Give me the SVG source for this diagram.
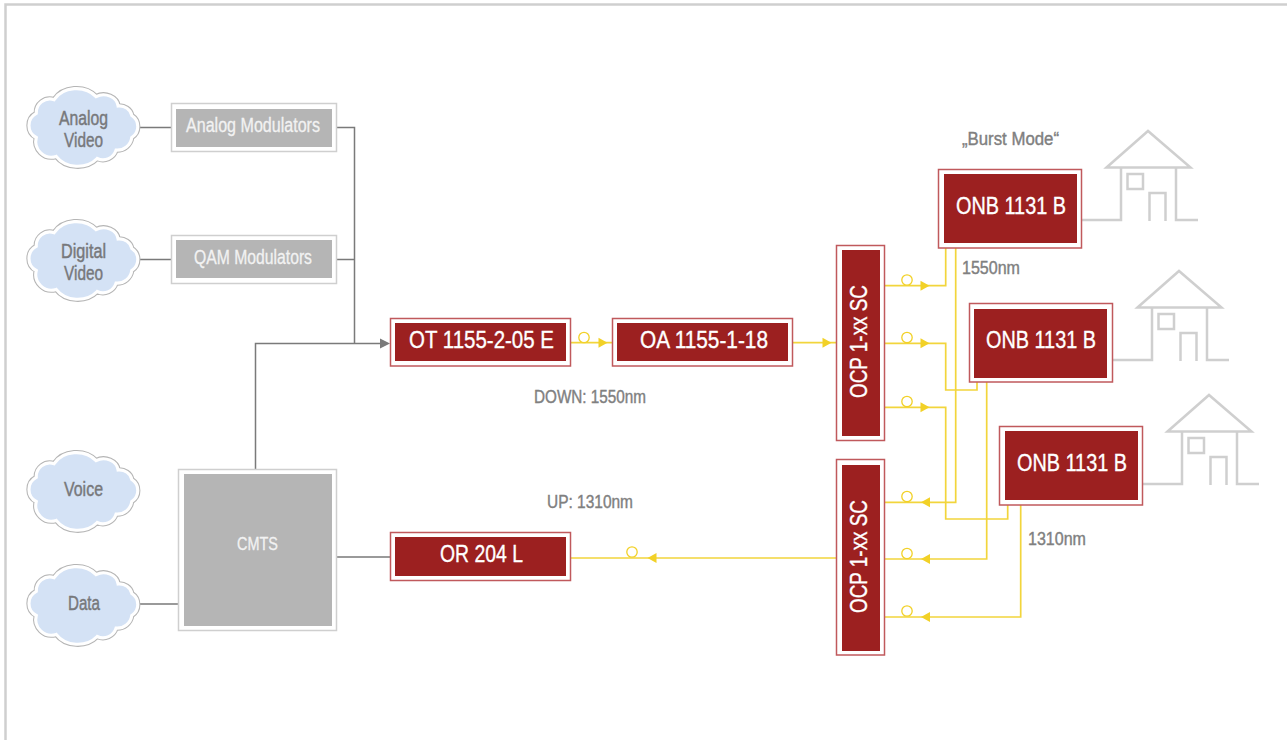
<svg xmlns="http://www.w3.org/2000/svg" xmlns:xlink="http://www.w3.org/1999/xlink" width="1287" height="740" viewBox="0 0 1287 740">
<style>
text{font-family:"Liberation Sans",Arial,sans-serif}
.g{fill:none;stroke:#7a7a7a;stroke-width:1.5}
.y{fill:none;stroke:#f2d53c;stroke-width:1.7}
.c{fill:#fff;stroke:#f2d127;stroke-width:1.3}
.ya{fill:#f2d127}
.ro{fill:#fff;stroke:#c0595c;stroke-width:1.5}
.ri{fill:#9c2020}
.go{fill:#fff;stroke:#cfcfcf;stroke-width:1.5}
.gi{fill:#b5b5b5}
.h{fill:none;stroke:#cfcfcf;stroke-width:2.5}
.t1{fill:#fff;font-size:24px;stroke:#fff;stroke-width:.35}
.t2{fill:#f2f2f2;font-size:19.5px;stroke:#f2f2f2;stroke-width:.3}
.t3{fill:#77787b;font-size:20px;stroke:#77787b;stroke-width:.45}
.t4{fill:#808080;font-size:18px;stroke:#808080;stroke-width:.4}
</style>
<defs>
<path id="cp" d="M39,116A13,13 0 0 1 56,103A24,20 0 0 1 96,100A14,12 0 0 1 117,109A12,11 0 0 1 130,118A12.500,12.500 0 0 1 130,139A14,14 0 0 1 115,151A13,13 0 0 1 97,159A24,20 0 0 1 58,157A15,15 0 0 1 39,139A13,13 0 0 1 39,116Z"/>
<g id="cloud" transform="translate(83.500,127) scale(1.05) translate(-84,-127)">
<use href="#cp" y="-2" fill="none" stroke="#b5b5b5" stroke-width="5"/>
<use href="#cp" y="-2" fill="#d4e2f5" stroke="#fff" stroke-width="3"/>
</g>
<polygon id="ar" class="ya" points="0,-5 9,0 0,5"/>
<polygon id="al" class="ya" points="9,-5 0,0 9,5"/>
<g id="house" class="h">
<path d="M1082,220H1121V167.500M1176,167.500V220H1198M1106.500,167.500L1148,131L1190.500,167.500Z"/>
<rect x="1127.500" y="174" width="15.500" height="15"/>
<path d="M1149.500,221V193H1165.500V221"/>
</g>
</defs>
<path id="frame" d="M5.500,740V4.500H1287" fill="none" stroke="#cfcfcf" stroke-width="2.500"/>
<g id="connectors">
<path class="g" d="M139,127.500H171M139,259.500H171M336,127.500H354.500V343M336,259.500H354.500M255.500,469V343.500H381M139,604H179M336,557H390"/>
<polygon points="380,338.500 390,343.500 380,348.500" fill="#7a7a7a"/>
<path class="y" d="M571,342.700H612M793,342.700H836M885,285.700H945.700V248M885,343.300H945.700V390H977V381M885,407.300H945.700V519H1007.700V505M955.700,248V502.300H885M986.700,381V559H885M1020.700,505V617H885M836,558H571"/>
<use href="#ar" x="598.500" y="342.700"/><use href="#ar" x="822.500" y="342.700"/>
<use href="#ar" x="920.500" y="285.700"/><use href="#ar" x="920.500" y="343.300"/><use href="#ar" x="920.500" y="407.300"/>
<use href="#al" x="921" y="502.300"/><use href="#al" x="921" y="559"/><use href="#al" x="921" y="617"/><use href="#al" x="647.500" y="558"/>
<circle class="c" cx="584" cy="337.500" r="5.200"/><circle class="c" cx="907" cy="280" r="5.200"/><circle class="c" cx="907" cy="337.500" r="5.200"/><circle class="c" cx="907" cy="401.500" r="5.200"/>
<circle class="c" cx="907" cy="496.500" r="5.200"/><circle class="c" cx="907" cy="553.500" r="5.200"/><circle class="c" cx="907" cy="611" r="5.200"/><circle class="c" cx="632" cy="552" r="5.200"/>
</g>
<g id="house1"><use href="#house"/></g>
<g id="house2"><use href="#house" x="31" y="140"/></g>
<g id="house3"><use href="#house" x="61" y="264"/></g>
<g id="cloud-analog"><use href="#cloud"/><text class="t3" x="59" y="124.500" textLength="49" lengthAdjust="spacingAndGlyphs">Analog</text><text class="t3" x="64" y="146.500" textLength="39" lengthAdjust="spacingAndGlyphs">Video</text></g>
<g id="cloud-digital"><use href="#cloud" y="133"/><text class="t3" x="61" y="257.500" textLength="45" lengthAdjust="spacingAndGlyphs">Digital</text><text class="t3" x="64" y="279.500" textLength="39" lengthAdjust="spacingAndGlyphs">Video</text></g>
<g id="cloud-voice"><use href="#cloud" y="364"/><text class="t3" x="64" y="495.500" textLength="39" lengthAdjust="spacingAndGlyphs">Voice</text></g>
<g id="cloud-data"><use href="#cloud" y="478"/><text class="t3" x="68" y="609.500" textLength="32" lengthAdjust="spacingAndGlyphs">Data</text></g>
<g id="analog-mod"><rect class="go" x="171.500" y="103.500" width="165" height="48"/><rect class="gi" x="176" y="109" width="156" height="38"/><text class="t2" x="186" y="132" textLength="134" lengthAdjust="spacingAndGlyphs">Analog Modulators</text></g>
<g id="qam-mod"><rect class="go" x="171.500" y="235.500" width="165" height="48"/><rect class="gi" x="176" y="240" width="156" height="38"/><text class="t2" x="194" y="264" textLength="118" lengthAdjust="spacingAndGlyphs">QAM Modulators</text></g>
<g id="cmts"><rect class="go" x="178.500" y="469.500" width="158" height="161"/><rect class="gi" x="184" y="474" width="148" height="152"/><text class="t2" x="237" y="549.500" textLength="41" lengthAdjust="spacingAndGlyphs" style="font-size:18px">CMTS</text></g>
<g id="ot"><rect class="ro" x="390.500" y="318.500" width="180" height="47.500"/><rect class="ri" x="395" y="323" width="171" height="38"/><text class="t1" x="409" y="348" textLength="145" lengthAdjust="spacingAndGlyphs">OT 1155-2-05 E</text></g>
<g id="oa"><rect class="ro" x="612.500" y="318.500" width="180" height="47.500"/><rect class="ri" x="617" y="323" width="171" height="38"/><text class="t1" x="640" y="348" textLength="128" lengthAdjust="spacingAndGlyphs">OA 1155-1-18</text></g>
<g id="or"><rect class="ro" x="390.500" y="532.500" width="180" height="48"/><rect class="ri" x="395" y="537" width="171" height="39"/><text class="t1" x="440" y="562" textLength="83" lengthAdjust="spacingAndGlyphs">OR 204 L</text></g>
<g id="ocp1"><rect class="ro" x="836.500" y="245.500" width="48" height="195"/><rect class="ri" x="842" y="250" width="38" height="186"/><text class="t1" transform="translate(867,398) rotate(-90)" textLength="113" lengthAdjust="spacingAndGlyphs">OCP 1-xx SC</text></g>
<g id="ocp2"><rect class="ro" x="836.500" y="459.500" width="48" height="195.500"/><rect class="ri" x="842" y="465" width="38" height="186"/><text class="t1" transform="translate(867,613) rotate(-90)" textLength="113" lengthAdjust="spacingAndGlyphs">OCP 1-xx SC</text></g>
<g id="onb1"><rect class="ro" x="938.500" y="169.500" width="143" height="78.500"/><rect class="ri" x="944" y="174" width="133" height="69"/><text class="t1" x="956" y="214" textLength="110" lengthAdjust="spacingAndGlyphs">ONB 1131 B</text></g>
<g id="onb2"><rect class="ro" x="969.500" y="303.500" width="143" height="78.500"/><rect class="ri" x="974" y="309" width="133" height="69"/><text class="t1" x="986" y="348" textLength="110" lengthAdjust="spacingAndGlyphs">ONB 1131 B</text></g>
<g id="onb3"><rect class="ro" x="999.500" y="426.500" width="143" height="78.500"/><rect class="ri" x="1005" y="431" width="133" height="69"/><text class="t1" x="1017" y="471" textLength="110" lengthAdjust="spacingAndGlyphs">ONB 1131 B</text></g>
<g id="labels">
<text class="t4" x="962" y="145" textLength="97" lengthAdjust="spacingAndGlyphs">„Burst Mode“</text>
<text class="t4" x="962" y="274" textLength="58" lengthAdjust="spacingAndGlyphs">1550nm</text>
<text class="t4" x="1028" y="545" textLength="58" lengthAdjust="spacingAndGlyphs">1310nm</text>
<text class="t4" x="534" y="403" textLength="112" lengthAdjust="spacingAndGlyphs">DOWN: 1550nm</text>
<text class="t4" x="547" y="508" textLength="86" lengthAdjust="spacingAndGlyphs">UP: 1310nm</text>
</g>
</svg>
